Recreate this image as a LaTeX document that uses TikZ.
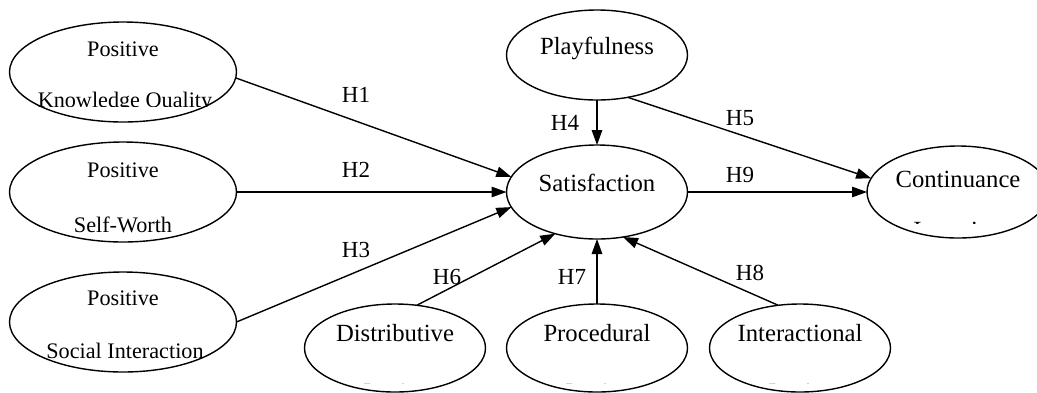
\documentclass[tikz,border=0pt]{standalone}
\usepackage{fontspec}
\setmainfont{Liberation Serif}
\usetikzlibrary{shapes.geometric,arrows.meta}
\tikzset{
  ell/.style={draw, ellipse, line width=1.4pt, inner sep=0pt, outer sep=0pt},
  bigtxt/.style={anchor=base, inner sep=0pt, font=\fontsize{24.7}{30}\selectfont},
  smalltxt/.style={anchor=base, inner sep=0pt, font=\fontsize{22.2}{27}\selectfont},
  lbl/.style={inner sep=0pt, font=\fontsize{23}{28}\selectfont},
  arr/.style={line width=1.4pt, -{Triangle[length=15pt,width=10.5pt]}},
}
\begin{document}
\begin{tikzpicture}[x=1pt,y=-1pt]
\clip (0,0) rectangle (1037,392);
\fill[white] (0,0) rectangle (1037,392);
% ellipses
\node[ell, minimum width=227pt, minimum height=100pt] (kq) at (123,72) {};
\node[ell, minimum width=227pt, minimum height=100pt] (sw) at (123,192) {};
\node[ell, minimum width=227pt, minimum height=100pt] (si) at (123,322) {};
\node[ell, minimum width=181pt, minimum height=90pt] (play) at (597,55) {};
\node[ell, minimum width=181pt, minimum height=94pt] (sat) at (597,192) {};
\node[ell, minimum width=182pt, minimum height=92pt] (cont) at (958,192) {};
\node[ell, minimum width=181pt, minimum height=88pt] (dist) at (395,348) {};
\node[ell, minimum width=181pt, minimum height=88pt] (proc) at (597,348) {};
\node[ell, minimum width=181pt, minimum height=88pt] (inter) at (800,348) {};
% texts
\node[smalltxt] (kq1) at (123,56.5) {Positive};
\begin{scope}\clip (0,85) rectangle (260,106.5);
\node[smalltxt] (kq2) at (125,107) {Knowledge Quality};
\end{scope}
\node[smalltxt] (sw1) at (123,177) {Positive};
\begin{scope}\clip (0,205) rectangle (260,232);
\node[smalltxt] (sw2) at (123,232.5) {Self-Worth};
\end{scope}
\node[smalltxt] (si1) at (123,305) {Positive};
\begin{scope}\clip (0,335) rectangle (260,358);
\node[smalltxt] (si2) at (125,358.5) {Social Interaction};
\end{scope}
\node[bigtxt] (play1) at (597,54.5) {Playfulness};
\node[bigtxt] (sat1) at (597,191.5) {Satisfaction};
\node[bigtxt] (cont1) at (958,187) {Continuance};
\begin{scope}\clip (860,210) rectangle (1037,223.4);
\node[bigtxt] (cont2) at (958,238.2) {Intention};
\end{scope}
\node[bigtxt] (dist1) at (395,341.5) {Distributive};
\node[bigtxt] (proc1) at (597,341.5) {Procedural};
\node[bigtxt] (inter1) at (800,341.5) {Interactional};
\begin{scope}\clip (300,375) rectangle (900,383.5);
\node[bigtxt] (dist2) at (395,400) {Justice};
\node[bigtxt] (proc2) at (597,400) {Justice};
\node[bigtxt] (inter2) at (800,400) {Justice};
\end{scope}
% edges
\draw[arr] (kq.-3) -- (sat.170);
\draw[arr] (sw.east) -- (sat.west);
\draw[arr] (si.east) -- (sat.190);
\draw[arr] (play.south) -- (sat.north);
\draw[arr] (play.-54) -- (cont.171);
\draw[arr] (sat.east) -- (cont.west);
\draw[arr] (dist.63) -- (sat.225);
\draw[arr] (proc.north) -- (sat.south);
\draw[arr] (inter.117) -- (sat.-60);
% edge labels
\node[lbl] (h1) at (356,95) {H1};
\node[lbl] (h2) at (356,170) {H2};
\node[lbl] (h3) at (356,250) {H3};
\node[lbl] (h4) at (565,123) {H4};
\node[lbl] (h5) at (740,118) {H5};
\node[lbl] (h9) at (740,175) {H9};
\node[lbl] (h6) at (447,277) {H6};
\node[lbl] (h7) at (572,277) {H7};
\node[lbl] (h8) at (750,273) {H8};
\end{tikzpicture}
\end{document}
